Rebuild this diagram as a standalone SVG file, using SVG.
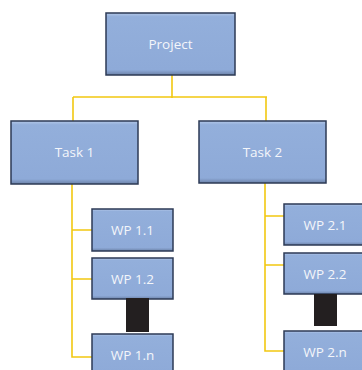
<svg xmlns="http://www.w3.org/2000/svg" width="362" height="370" viewBox="0 0 362 370">
<defs>
<linearGradient id="bev" x1="0" y1="0" x2="0" y2="1">
<stop offset="0" stop-color="#b4c8e8"/>
<stop offset="0.06" stop-color="#93afdb"/>
<stop offset="0.92" stop-color="#8eaad8"/>
<stop offset="1" stop-color="#6c82a8"/>
</linearGradient>
</defs>
<style>
.box{fill:url(#bev);stroke:#2c3a55;stroke-width:1.5}
.lbl{font-family:"Open Sans","Liberation Sans",sans-serif;font-size:13.5px;fill:#f4f6fa;text-anchor:middle;dominant-baseline:central}
.con{stroke:#f2c811;stroke-width:1.6;fill:none}
.blk{fill:#231f20}
</style>
<g id="connectors">
<path class="con" d="M172 75 V98 M73 97 H267 M73 97 V121 M266 97 V121"/>
<path class="con" d="M72 184 V357 H92 M72 230 H92 M72 279 H92"/>
<path class="con" d="M265 183 V351 H284 M265 216 H284 M265 265 H284"/>
</g>
<g id="project"><rect class="box" x="106" y="13" width="129" height="62"/><text class="lbl" x="170.5" y="44">Project</text></g>
<g id="task1"><rect class="box" x="11" y="121" width="127" height="63"/><text class="lbl" x="74.5" y="152">Task 1</text></g>
<g id="task2"><rect class="box" x="199" y="121" width="127" height="62"/><text class="lbl" x="262.5" y="152">Task 2</text></g>
<g id="wp11"><rect class="box" x="92" y="209" width="81" height="42"/><text class="lbl" x="132.5" y="230">WP 1.1</text></g>
<g id="wp12"><rect class="box" x="92" y="258" width="81" height="41"/><text class="lbl" x="132.5" y="278.5">WP 1.2</text></g>
<g id="gap1"><rect class="blk" x="126" y="298" width="23" height="34"/></g>
<g id="wp1n"><rect class="box" x="92" y="334" width="81" height="42"/><text class="lbl" x="132.5" y="355">WP 1.n</text></g>
<g id="wp21"><rect class="box" x="284" y="204" width="82" height="41"/><text class="lbl" x="325" y="224.5">WP 2.1</text></g>
<g id="wp22"><rect class="box" x="284" y="253" width="82" height="41"/><text class="lbl" x="325" y="273.5">WP 2.2</text></g>
<g id="gap2"><rect class="blk" x="314" y="294" width="23" height="32"/></g>
<g id="wp2n"><rect class="box" x="284" y="331" width="82" height="42"/><text class="lbl" x="325" y="352">WP 2.n</text></g>
</svg>
